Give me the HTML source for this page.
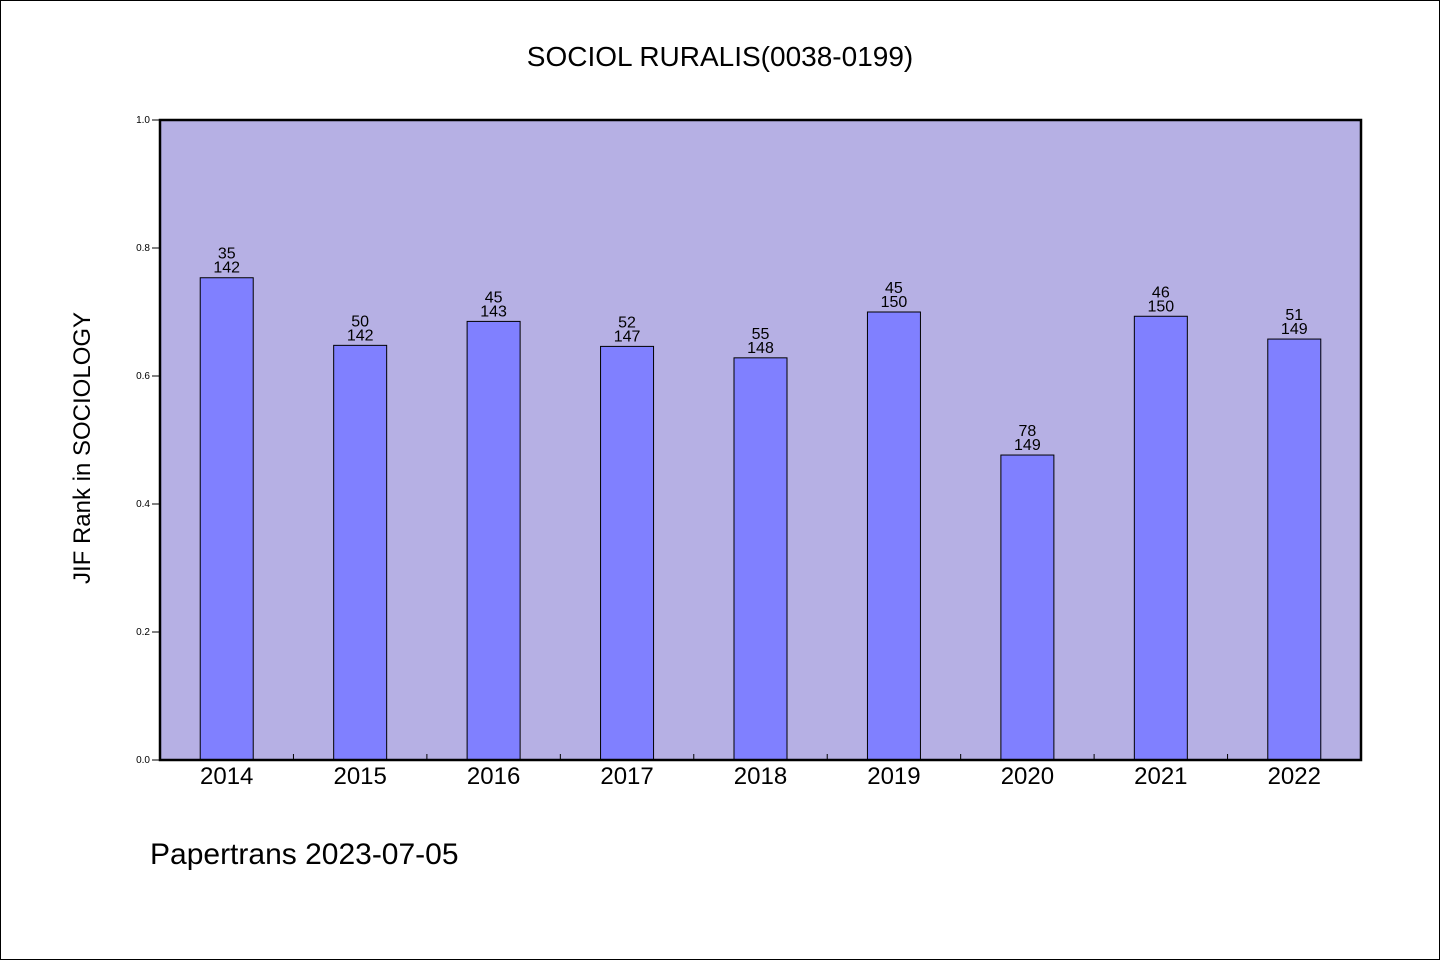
<!DOCTYPE html>
<html><head><meta charset="utf-8"><style>
html,body{margin:0;padding:0;background:#fff}
svg{display:block}
text{font-family:"WenQuanYi Zen Hei","Liberation Sans",sans-serif}
</style></head><body>
<svg id="chart" width="1440" height="960" xmlns="http://www.w3.org/2000/svg">
<rect x="0.5" y="0.5" width="1439" height="959" fill="#fff" stroke="#000"/>
<text x="720" y="66" font-size="28" text-anchor="middle">SOCIOL RURALIS(0038-0199)</text>
<rect x="160" y="120" width="1201" height="640" fill="#b6b0e4"/>
<g id="ticks"></g>
<g id="bars"></g>
<rect x="160" y="120" width="1201" height="640" fill="none" stroke="#000" stroke-width="2.5"/>
<text transform="translate(90,448) rotate(-90)" font-size="24" text-anchor="middle">JIF Rank in SOCIOLOGY</text>
<text x="150" y="864" font-size="30">Papertrans 2023-07-05</text>
</svg>
<script>
const categories=["2014","2015","2016","2017","2018","2019","2020","2021","2022"];
const ranks=[35,50,45,52,55,45,78,46,51];
const totals=[142,142,143,147,148,150,149,150,149];
const yTicks=[0,0.2,0.4,0.6,0.8,1.0];
const yTickLabels=["0.0","0.2","0.4","0.6","0.8","1.0"];
const NS="http://www.w3.org/2000/svg";
const X0=160,W=1201,Y0=760,H=640;
const band=W/categories.length;
const xC=i=>X0+band*(i+0.5);
const y=v=>Y0-v*H;
function mk(t,a,p){const e=document.createElementNS(NS,t);for(const k in a)e.setAttribute(k,a[k]);p.appendChild(e);return e;}
const tg=document.getElementById('ticks'),bg=document.getElementById('bars');
yTicks.forEach((v,i)=>{
 const l=mk('line',{x1:152,x2:160,y1:y(v),y2:y(v),stroke:'#000'},tg);
 
 
 const t=mk('text',{x:150,y:y(v)+3,'font-size':10,'text-anchor':'end'},tg);
 
 
 t.textContent=yTickLabels[i];
});
for(let i=1;i<categories.length;i++){
 const l=mk('line',{x1:X0+band*i,x2:X0+band*i,y1:754,y2:760,stroke:'#000'},tg);
 
 
}
categories.forEach((c,i)=>{
 const v=1-ranks[i]/totals[i];
 const r=mk('rect',{x:xC(i)-26.5,y:y(v),width:53,height:Y0-y(v),fill:'#8080ff',stroke:'#000','stroke-width':1},bg);
 
 
 const t1=mk('text',{x:xC(i),y:y(v)-19,'font-size':16,'text-anchor':'middle'},bg);
 
 
 t1.textContent=ranks[i];
 const t2=mk('text',{x:xC(i),y:y(v)-5,'font-size':16,'text-anchor':'middle'},bg);
 
 
 t2.textContent=totals[i];
 const xl=mk('text',{x:xC(i),y:784,'font-size':24,'text-anchor':'middle'},bg);
 
 
 xl.textContent=c;
});
</script>
</body></html>
